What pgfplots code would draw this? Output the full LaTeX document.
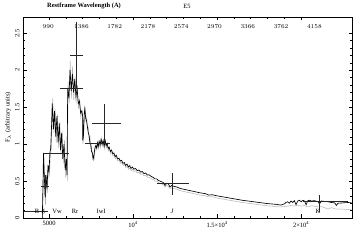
\documentclass[border=0pt]{standalone}
\usepackage{pgfplots}
\pgfplotsset{compat=1.18}
\usepackage{fontspec}
\setmainfont{Liberation Serif}
\newcommand{\sz}{\fontsize{6.5}{7}\selectfont}
\begin{document}
\begin{tikzpicture}
\path[use as bounding box] (0,0) rectangle (354bp,242bp);
\begin{axis}[
  at={(23bp,24bp)}, anchor=south west,
  scale only axis, width=329bp, height=201bp,
  xmin=3450, xmax=23030, ymin=0, ymax=2.72,
  scaled x ticks=false,
  xtick={5000,10000,15000,20000},
  xticklabels={5000,10\textsuperscript{4},1.5×10\textsuperscript{4},2×10\textsuperscript{4}},
  minor x tick num=4,
  ytick={0,0.5,1,1.5,2,2.5},
  yticklabels={0,0.5,1,1.5,2,2.5},
  minor y tick num=4,
  yticklabel style={rotate=90, font=\sz},
  xticklabel style={font=\sz},
  major tick length=3.5bp, minor tick length=2bp,
  tick style={black, line width=0.4pt},
  axis line style={line width=0.4pt},
  ylabel={F$_\lambda$ (arbitrary units)},
  ylabel style={font=\sz, at={(axis description cs:-0.045,0.5)}, anchor=center},
  clip=true,
]
% gray spectrum
\addplot[gray!60, line width=0.5pt] coordinates {
(4620,0.00)(4650,0.50)(4690,0.82)(4740,0.40)(4790,0.18)(4840,0.52)(4900,0.34)(4960,0.66)(5020,0.56)(5080,0.86)
(5130,0.92)(5180,1.35)(5220,1.62)(5290,1.15)(5360,1.48)(5430,1.02)(5500,1.40)(5570,0.95)(5640,1.30)(5710,0.86)
(5780,1.18)(5850,0.74)(5920,1.05)(5990,0.55)(6050,0.78)(6090,0.50)(6130,1.85)(6200,1.55)(6260,2.13)(6330,1.62)
(6400,2.05)(6470,1.60)(6540,1.92)(6610,1.55)(6680,1.80)(6750,1.48)(6820,1.62)(6890,1.36)(6960,1.45)(7005,1.32)
(7015,1.00)(7055,1.08)(7095,1.38)(7140,1.50)(7190,1.32)(7240,1.36)(7290,1.20)(7340,1.22)(7390,1.05)
(7440,1.10)(7490,0.94)(7540,0.96)(7590,0.80)(7640,0.84)(7690,0.80)(7740,0.93)(7790,0.96)(7840,0.92)(7890,1.00)
(7940,0.94)(7990,1.02)(8050,0.95)(8110,1.05)(8170,0.97)(8230,1.03)(8290,0.94)(8350,1.03)(8410,0.95)(8470,0.99)
(8530,0.91)(8590,0.94)(8660,0.87)(8730,0.90)(8800,0.84)(8870,0.86)(8940,0.80)(9010,0.83)(9090,0.77)(9170,0.79)
(9250,0.74)(9330,0.76)(9410,0.71)(9490,0.73)(9570,0.68)(9650,0.70)(9730,0.66)(9810,0.68)(9890,0.64)(9970,0.66)
(10050,0.63)(10150,0.64)(10250,0.61)(10350,0.62)(10450,0.59)(10550,0.60)(10650,0.57)(10750,0.58)(10850,0.55)(10950,0.555)
(11100,0.53)(11200,0.52)(11300,0.50)(11400,0.50)(11500,0.48)(11600,0.47)(11700,0.46)(11800,0.45)(11900,0.42)(12000,0.44)
(12100,0.43)(12200,0.40)(12300,0.41)(12400,0.40)(12600,0.39)(12800,0.37)(13000,0.36)(13200,0.35)(13400,0.34)(13600,0.33)
(13800,0.32)(14000,0.31)(14300,0.30)(14500,0.285)(14700,0.29)(15000,0.27)(15500,0.25)(16000,0.23)(16500,0.21)(17000,0.195)
(17500,0.18)(18000,0.165)(18500,0.155)(18800,0.15)(19000,0.155)(19200,0.16)(19400,0.17)(19600,0.16)(19800,0.175)(20000,0.16)
(20200,0.17)(20400,0.15)(20600,0.165)(20800,0.16)(21000,0.15)(21200,0.155)(21400,0.14)(21600,0.12)(21800,0.14)(22000,0.125)
(22200,0.12)(22500,0.12)(22800,0.115)(23000,0.115)
};
% black spectrum
\addplot[black, line width=0.65pt] coordinates {
(4600,0.00)(4640,0.45)(4670,0.88)(4720,0.55)(4770,0.28)(4820,0.58)(4880,0.40)(4940,0.72)(5000,0.62)(5050,0.88)
(5100,0.95)(5150,1.25)(5190,1.55)(5260,1.20)(5330,1.45)(5400,1.10)(5470,1.38)(5540,1.02)(5610,1.28)(5680,0.92)
(5750,1.15)(5820,0.80)(5890,1.00)(5960,0.65)(6030,0.80)(6070,0.58)(6110,1.75)(6180,1.62)(6250,2.00)(6320,1.72)
(6390,1.95)(6460,1.70)(6530,1.88)(6600,1.65)(6670,1.75)(6740,1.55)(6810,1.58)(6880,1.42)(6950,1.45)(7000,1.38)
(7010,1.05)(7050,1.12)(7090,1.40)(7130,1.48)(7180,1.35)(7230,1.32)(7280,1.24)(7330,1.16)(7380,1.12)
(7430,1.02)(7480,1.00)(7530,0.90)(7580,0.88)(7630,0.80)(7680,0.86)(7730,0.95)(7780,0.98)(7830,0.95)(7880,1.02)
(7930,0.97)(7980,1.04)(8040,0.99)(8100,1.07)(8160,1.00)(8220,1.05)(8280,0.97)(8340,1.05)(8400,0.98)(8460,1.01)
(8520,0.94)(8580,0.96)(8650,0.90)(8720,0.92)(8790,0.87)(8860,0.88)(8930,0.83)(9000,0.85)(9080,0.80)(9160,0.81)
(9240,0.77)(9320,0.78)(9400,0.74)(9480,0.75)(9560,0.71)(9640,0.73)(9720,0.69)(9800,0.71)(9880,0.67)(9960,0.69)
(10050,0.66)(10150,0.67)(10250,0.64)(10350,0.65)(10450,0.62)(10550,0.63)(10650,0.60)(10750,0.61)(10850,0.58)(10950,0.585)
(11100,0.56)(11200,0.55)(11300,0.53)(11400,0.53)(11500,0.51)(11600,0.50)(11700,0.49)(11800,0.48)(11900,0.44)(12000,0.47)
(12100,0.46)(12200,0.42)(12300,0.44)(12400,0.43)(12600,0.42)(12800,0.40)(13000,0.39)(13200,0.38)(13400,0.37)(13600,0.36)
(13800,0.35)(14000,0.34)(14300,0.33)(14500,0.31)(14700,0.315)(15000,0.30)(15500,0.28)(16000,0.26)(16500,0.24)(17000,0.225)
(17500,0.21)(18000,0.195)(18500,0.185)(18800,0.175)(19000,0.19)(19100,0.21)(19200,0.22)(19300,0.20)(19400,0.23)(19500,0.21)
(19600,0.235)(19700,0.18)(19800,0.23)(19900,0.24)(20000,0.22)(20100,0.24)(20200,0.23)(20300,0.18)(20400,0.235)(20500,0.24)
(20600,0.23)(20800,0.235)(21000,0.22)(21100,0.19)(21200,0.23)(21400,0.225)(21600,0.22)(21800,0.21)(22000,0.205)(22100,0.17)
(22200,0.20)(22500,0.205)(22800,0.21)(23000,0.205)
};
% photometric points
\addplot[only marks, mark=*, mark size=0pt,
  error bars/.cd, x dir=both, x explicit, y dir=both, y explicit,
  error mark=none, error bar style={black!85, line width=0.6pt}]
coordinates {
(4150,0.095) += (800,0) -= (800,0)
(4760,0.43) += (230,0.15) -= (230,0.15)
(5400,0.88) += (780,0) -= (780,0)
(6340,1.76) += (670,0) -= (670,0)
(6640,2.20) += (400,0.45) -= (400,0.45)
(7890,1.01) += (745,0) -= (745,0)
(8280,1.28) += (1010,0.26) -= (720,0.26)
(12320,0.47) += (1010,0.14) -= (890,0.16)
(21070,0.22) += (1730,0.09) -= (950,0.14)
};
\node[font=\sz] at (axis cs:4290,0.085) {B};
\node[font=\sz] at (axis cs:4660,0.085) {g};
\node[font=\sz] at (axis cs:5480,0.085) {Vw};
\node[font=\sz] at (axis cs:6550,0.085) {Rr};
\node[font=\sz] at (axis cs:8100,0.085) {IwI};
\node[font=\sz\itshape] at (axis cs:12320,0.085) {J};
\node[font=\sz] at (axis cs:21010,0.085) {K};
\end{axis}
\begin{axis}[
  at={(23bp,24bp)}, anchor=south west,
  scale only axis, width=329bp, height=201bp,
  xmin=690, xmax=4606, ymin=0, ymax=2.72,
  axis x line*=top, hide y axis,
  xtick={990,1386,1782,2178,2574,2970,3366,3762,4158},
  /pgf/number format/1000 sep={},
  scaled x ticks=false,
  major tick length=0pt,
  xticklabel style={font=\sz\bfseries, anchor=north, yshift=-4bp},
]
\end{axis}
\node[font=\sz\bfseries] at (84bp,236bp) {Restframe Wavelength (A)};
\node[font=\sz] at (187bp,236bp) {E5};
\end{tikzpicture}
\end{document}
